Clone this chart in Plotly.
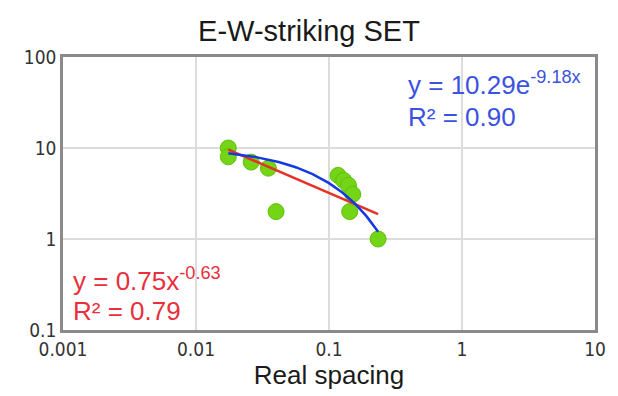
import numpy as np
import plotly.graph_objects as go

# Measured fracture data: real spacing vs. frequency
spacing = [0.0175, 0.0175, 0.026, 0.035, 0.040, 0.117, 0.129, 0.140, 0.151, 0.143, 0.234]
frequency = [10, 8, 7, 6, 2, 5, 4.4, 3.9, 3.1, 2, 1]

# Trendline coefficients
exp_a, exp_b, exp_r2 = 10.29, -9.18, 0.90
pow_a, pow_b, pow_r2 = 0.75, -0.63, 0.79

x_ticks = [0.001, 0.01, 0.1, 1, 10]
x_tick_text = ["0.001", "0.01", "0.1", "1", "10"]
y_ticks = [0.1, 1, 10, 100]
y_tick_text = ["0.1", "1", "10", "100"]

xs = np.logspace(np.log10(min(spacing)), np.log10(max(spacing)), 120)
y_pow = pow_a * xs ** pow_b
y_exp = exp_a * np.exp(exp_b * xs)

fig = go.Figure()
fig.add_trace(go.Scatter(
    x=spacing, y=frequency, mode="markers",
    marker=dict(size=16, color="#74d416", line=dict(color="#62c00a", width=1)),
    showlegend=False,
))
fig.add_trace(go.Scatter(
    x=xs, y=y_pow, mode="lines",
    line=dict(color="#e53228", width=2.5), showlegend=False,
))
fig.add_trace(go.Scatter(
    x=xs, y=y_exp, mode="lines",
    line=dict(color="#1638e0", width=2.5), showlegend=False,
))

L, R, T, B = 63, 15, 57, 61
W, H = 618, 396
pw, ph = W - L - R, H - T - B


def px(xp):
    return (xp - L) / pw


def py(yp):
    return (H - B - yp) / ph


blue = "#3b52e0"
red = "#e8303c"
font_eq = "Liberation Sans, Arial, sans-serif"
eq_size = 26
annotations = [
    dict(x=px(411), y=py(84), text=f"y = {exp_a:.2f}e<sup>{exp_b:.2f}x</sup>",
         font=dict(color=blue, size=eq_size, family=font_eq)),
    dict(x=px(411), y=py(118), text=f"R² = {exp_r2:.2f}",
         font=dict(color=blue, size=eq_size, family=font_eq)),
    dict(x=px(71), y=py(284), text=f"y = {pow_a:.2f}x<sup>{pow_b:.2f}</sup>",
         font=dict(color=red, size=eq_size, family=font_eq)),
    dict(x=px(71), y=py(316), text=f"R² = {pow_r2:.2f}",
         font=dict(color=red, size=eq_size, family=font_eq)),
]
for a in annotations:
    a.update(xref="paper", yref="paper", xanchor="left", yanchor="middle",
             showarrow=False)

fig.update_layout(
    width=W, height=H,
    margin=dict(l=L, r=R, t=T, b=B),
    paper_bgcolor="white", plot_bgcolor="white",
    title=dict(text="E-W-striking SET", x=0.5, xanchor="center",
               y=1 - 31 / H, yanchor="middle",
               font=dict(size=29, color="#1a1a1a", family=font_eq)),
    annotations=annotations,
    xaxis=dict(
        type="log", range=[-3, 1],
        tickvals=x_ticks, ticktext=x_tick_text,
        tickfont=dict(size=19, color="#333333", family="DejaVu Sans Condensed, DejaVu Sans"),
        showgrid=True, gridcolor="#dcdcdc", gridwidth=1.5,
        showline=True, mirror=True, linecolor="#8a8a8a", linewidth=2.5,
        zeroline=False, ticks="",
        title=dict(text="Real spacing", standoff=6,
                   font=dict(size=26, color="#1a1a1a", family=font_eq)),
    ),
    yaxis=dict(
        type="log", range=[-1, 2],
        tickvals=y_ticks, ticktext=y_tick_text,
        tickfont=dict(size=19, color="#333333", family="DejaVu Sans Condensed, DejaVu Sans"),
        showgrid=True, gridcolor="#dcdcdc", gridwidth=1.5,
        showline=True, mirror=True, linecolor="#8a8a8a", linewidth=2.5,
        zeroline=False, ticks="",
    ),
)

fig.write_html("out.html")
